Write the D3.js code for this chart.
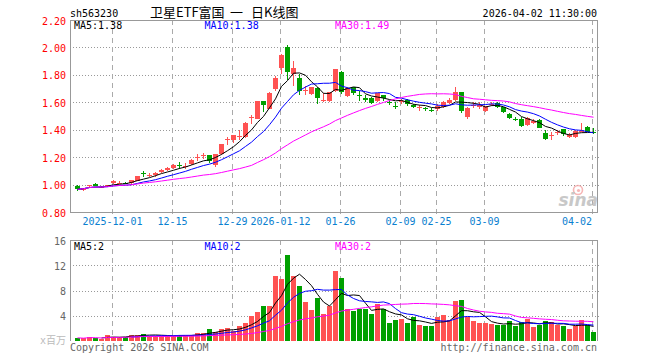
<!DOCTYPE html>
<html>
<head>
<meta charset="utf-8">
<script src="https://cdn.jsdelivr.net/npm/d3@7/dist/d3.min.js"></script>
<style>
  body { margin: 0; background: #fff; }
  svg { display: block; }
  text { font-family: "DejaVu Sans Mono", monospace; font-size: 10px; }
</style>
</head>
<body>
<div id="chart"></div>
<script>
// trading days shown on the chart
const dates = [
    "2025-11-21", "2025-11-24", "2025-11-25", "2025-11-26", "2025-11-27", "2025-11-28",
    "2025-12-01", "2025-12-02", "2025-12-03", "2025-12-04", "2025-12-05",
    "2025-12-08", "2025-12-09", "2025-12-10", "2025-12-11", "2025-12-12",
    "2025-12-15", "2025-12-16", "2025-12-17", "2025-12-18", "2025-12-19",
    "2025-12-22", "2025-12-23", "2025-12-24", "2025-12-25", "2025-12-26",
    "2025-12-29", "2025-12-30", "2025-12-31",
    "2026-01-05", "2026-01-06", "2026-01-07", "2026-01-08", "2026-01-09",
    "2026-01-12", "2026-01-13", "2026-01-14", "2026-01-15", "2026-01-16",
    "2026-01-19", "2026-01-20", "2026-01-21", "2026-01-22", "2026-01-23",
    "2026-01-26", "2026-01-27", "2026-01-28", "2026-01-29", "2026-01-30",
    "2026-02-02", "2026-02-03", "2026-02-04", "2026-02-05", "2026-02-06",
    "2026-02-09", "2026-02-10", "2026-02-11", "2026-02-12", "2026-02-13",
    "2026-02-24", "2026-02-25", "2026-02-26", "2026-02-27",
    "2026-03-02", "2026-03-03", "2026-03-04", "2026-03-05", "2026-03-06",
    "2026-03-09", "2026-03-10", "2026-03-11", "2026-03-12", "2026-03-13",
    "2026-03-16", "2026-03-17", "2026-03-18", "2026-03-19", "2026-03-20",
    "2026-03-23", "2026-03-24", "2026-03-25", "2026-03-26", "2026-03-27",
    "2026-03-30", "2026-03-31", "2026-04-01", "2026-04-02"
];

const open = [
    0.990, 0.962, 0.990, 1.005, 0.978, 0.990, 1.010, 1.010, 1.015, 1.008,
    1.027, 1.082, 1.065, 1.070, 1.090, 1.105, 1.118, 1.140, 1.130, 1.147,
    1.195, 1.210, 1.213, 1.140, 1.220, 1.328, 1.327, 1.350, 1.347, 1.485,
    1.480, 1.606, 1.552, 1.695, 1.850, 2.005, 1.806, 1.775, 1.685, 1.660,
    1.705, 1.610, 1.613, 1.685, 1.820, 1.648, 1.710, 1.652, 1.634, 1.630,
    1.612, 1.650, 1.600, 1.570, 1.605, 1.615, 1.582, 1.560, 1.555, 1.546,
    1.550, 1.568, 1.595, 1.614, 1.672, 1.490, 1.573, 1.567, 1.540, 1.585,
    1.595, 1.563, 1.515, 1.475, 1.480, 1.437, 1.452, 1.468, 1.376, 1.360,
    1.375, 1.403, 1.347, 1.350, 1.388, 1.420, 1.382
];
const high = [
    0.995, 0.978, 1.000, 1.008, 0.990, 1.000, 1.030, 1.025, 1.020, 1.035,
    1.065, 1.100, 1.085, 1.090, 1.115, 1.130, 1.148, 1.162, 1.160, 1.190,
    1.220, 1.230, 1.215, 1.222, 1.295, 1.350, 1.365, 1.400, 1.455, 1.510,
    1.612, 1.610, 1.675, 1.795, 1.952, 2.015, 1.903, 1.806, 1.720, 1.715,
    1.710, 1.670, 1.678, 1.845, 1.825, 1.710, 1.715, 1.680, 1.655, 1.640,
    1.670, 1.655, 1.615, 1.600, 1.625, 1.625, 1.590, 1.580, 1.565, 1.560,
    1.585, 1.608, 1.630, 1.710, 1.675, 1.562, 1.600, 1.600, 1.575, 1.600,
    1.600, 1.565, 1.525, 1.490, 1.490, 1.490, 1.480, 1.475, 1.400, 1.385,
    1.400, 1.405, 1.375, 1.400, 1.447, 1.430, 1.410
];
const low = [
    0.950, 0.955, 0.985, 0.990, 0.975, 0.985, 1.005, 1.005, 1.005, 1.000,
    1.025, 1.055, 1.052, 1.058, 1.085, 1.100, 1.110, 1.112, 1.110, 1.140,
    1.175, 1.190, 1.155, 1.130, 1.215, 1.285, 1.300, 1.325, 1.340, 1.440,
    1.478, 1.528, 1.550, 1.685, 1.806, 1.763, 1.720, 1.650, 1.650, 1.650,
    1.588, 1.605, 1.600, 1.675, 1.660, 1.640, 1.650, 1.610, 1.600, 1.590,
    1.600, 1.610, 1.580, 1.550, 1.590, 1.570, 1.555, 1.540, 1.540, 1.530,
    1.535, 1.560, 1.585, 1.610, 1.520, 1.480, 1.555, 1.550, 1.530, 1.575,
    1.560, 1.520, 1.480, 1.460, 1.420, 1.430, 1.445, 1.410, 1.325, 1.325,
    1.365, 1.355, 1.340, 1.340, 1.385, 1.380, 1.370
];
const close = [
    0.965, 0.975, 0.995, 0.992, 0.985, 0.995, 1.025, 1.015, 1.012, 1.030,
    1.063, 1.078, 1.070, 1.082, 1.108, 1.122, 1.140, 1.136, 1.135, 1.180,
    1.200, 1.215, 1.172, 1.220, 1.293, 1.335, 1.360, 1.355, 1.450, 1.492,
    1.608, 1.580, 1.670, 1.775, 1.947, 1.818, 1.850, 1.680, 1.690, 1.710,
    1.632, 1.615, 1.673, 1.840, 1.673, 1.702, 1.670, 1.648, 1.614, 1.595,
    1.665, 1.630, 1.597, 1.567, 1.612, 1.588, 1.565, 1.565, 1.550, 1.542,
    1.573, 1.605, 1.620, 1.672, 1.535, 1.558, 1.578, 1.583, 1.570, 1.590,
    1.565, 1.530, 1.487, 1.472, 1.425, 1.485, 1.462, 1.413, 1.335, 1.365,
    1.380, 1.370, 1.360, 1.390, 1.392, 1.385, 1.378
];
// volume, millions
const volume = [
    0.50, 0.40, 0.70, 0.50, 0.30, 1.00, 0.60, 0.60, 0.70, 1.00,
    1.00, 1.16, 0.80, 0.80, 0.80, 0.80, 0.80, 1.00, 0.80, 1.00,
    1.20, 1.30, 1.85, 1.47, 1.95, 2.10, 1.55, 2.43, 2.80, 4.00,
    4.65, 5.54, 5.54, 10.35, 9.82, 13.67, 10.35, 8.71, 6.18, 4.91,
    6.81, 4.28, 5.54, 11.14, 9.98, 5.07, 4.75, 5.07, 5.07, 4.28,
    5.91, 5.07, 2.85, 3.33, 3.49, 2.85, 3.80, 2.53, 2.38, 2.38,
    3.80, 4.07, 3.33, 6.34, 6.50, 3.75, 3.22, 2.85, 2.85, 2.69,
    2.53, 2.53, 3.17, 2.38, 3.00, 3.49, 2.22, 2.53, 3.17, 3.00,
    2.53, 2.38, 1.90, 2.38, 3.33, 2.53, 1.43
];
const volMaText = ["2", "2", "2"]; // volume MA readouts as shown

const priceTicks = [2.20, 2.00, 1.80, 1.60, 1.40, 1.20, 1.00, 0.80];
const volTicks = [16, 12, 8, 4];
const tickDates = ["2025-12-01", "2025-12-15", "2025-12-29", "2026-01-12", "2026-01-26",
    "2026-02-09", "2026-02-25", "2026-03-09", "2026-04-02"];
const tickLabels = ["2025-12-01", "12-15", "12-29", "2026-01-12", "01-26",
    "02-09", "02-25", "03-09", "04-02"];
const titleParts = ["卫星ETF富国", "一", "日K线图"];

const maPeriods = [5, 10, 30];
const maColors = ["#000000", "#0000ff", "#ff00ff"];

const left = 70, right = 597;
const priceTop = 20, priceBottom = 212;
const volTop = 240, volBottom = 341;
const upColor = "#ff5252", downColor = "#00a000";

const svg = d3.select("#chart").append("svg")
    .attr("width", 660)
    .attr("height", 360);

const x = d3.scaleBand().domain(dates).range([75, 597]);
const y = d3.scaleLinear().domain([0.8, 2.2]).range([priceBottom, priceTop]);
const yv = d3.scaleLinear().domain([0, 16]).range([volBottom, volTop]);
const cx = d => x(d) + 2.5;
const gx = d => x(d) + 1.5;

const candles = dates.map((d, i) => ({
    date: d, o: open[i], h: high[i], l: low[i], c: close[i], v: volume[i]
}));

function movingAvg(values, n, full) {
    return values.map((v, i) => {
        if (full && i < n - 1) return null;
        return d3.mean(values.slice(Math.max(0, i - n + 1), i + 1));
    });
}

// header
svg.append("text").attr("x", 70).attr("y", 17).text("sh563230");
const titleX = [150, 230, 251];
svg.selectAll(".title").data(titleParts).enter().append("text")
    .attr("x", (d, i) => titleX[i]).attr("y", 17)
    .style("font-family", "'Noto Sans CJK SC', sans-serif").style("font-size", "13px")
    .text(d => d);
svg.append("text").attr("x", 597).attr("y", 17).attr("text-anchor", "end")
    .text("2026-04-02 11:30:00");

// grid lines
const grid = svg.append("g").attr("shape-rendering", "crispEdges");
grid.selectAll(".hp").data(priceTicks.slice(1, -1)).enter().append("line")
    .attr("x1", left).attr("x2", right + 2)
    .attr("y1", d => Math.round(y(d)) + 0.5).attr("y2", d => Math.round(y(d)) + 0.5)
    .attr("stroke", "#999").attr("stroke-dasharray", "1,2");
grid.selectAll(".hv").data(volTicks.slice(1)).enter().append("line")
    .attr("x1", left).attr("x2", right + 2)
    .attr("y1", d => Math.round(yv(d)) + 0.5).attr("y2", d => Math.round(yv(d)) + 0.5)
    .attr("stroke", "#999").attr("stroke-dasharray", "1,2");
[[priceTop, priceBottom + 2], [volTop, volBottom]].forEach(([a, b]) => {
    grid.selectAll(null).data(tickDates).enter().append("line")
        .attr("x1", gx).attr("x2", gx)
        .attr("y1", a).attr("y2", b)
        .attr("stroke", "#aaa").attr("stroke-dasharray", "5,4");
});

// watermark
const logo = svg.append("g").attr("opacity", 0.8);
logo.append("circle").attr("cx", 578).attr("cy", 190).attr("r", 4.5)
    .attr("fill", "none").attr("stroke", "#f4a4a4").attr("stroke-width", 1.6);
logo.append("circle").attr("cx", 578.5).attr("cy", 190.5).attr("r", 1.6).attr("fill", "#f4a4a4");
logo.append("text").attr("x", 598).attr("y", 206).attr("text-anchor", "end")
    .style("font-family", "'DejaVu Sans', sans-serif").style("font-size", "17px")
    .style("font-weight", "bold").style("font-style", "italic")
    .attr("fill", "#bbb").text("sina");

// borders
const border = svg.append("g").attr("shape-rendering", "crispEdges")
    .attr("stroke", "#999").attr("fill", "none");
border.append("rect").attr("x", left + 0.5).attr("y", priceTop + 0.5)
    .attr("width", right - left).attr("height", priceBottom - priceTop);
border.append("path")
    .attr("d", `M${left + 0.5},${volBottom}V${volTop + 0.5}H${right + 0.5}V${volBottom}`);

// axis labels
svg.selectAll(".py").data(priceTicks).enter().append("text")
    .attr("x", 66).attr("y", d => y(d) + 4.5).attr("text-anchor", "end")
    .attr("fill", "#f00").text(d => d.toFixed(2));
svg.selectAll(".vy").data(volTicks).enter().append("text")
    .attr("x", 66).attr("y", d => yv(d) + 4.5).attr("text-anchor", "end")
    .attr("fill", "#666").text(d => d);
svg.append("text").attr("x", 66).attr("y", 344).attr("text-anchor", "end")
    .style("font-family", "'DejaVu Sans Mono', 'Noto Sans CJK SC', monospace")
    .attr("fill", "#bbb").text("x百万");
svg.selectAll(".xl").data(tickDates).enter().append("text")
    .attr("x", (d, i) => Math.min(gx(d), 592 - tickLabels[i].length * 3))
    .attr("y", 225).attr("text-anchor", "middle")
    .attr("fill", "#0a80d0").text((d, i) => tickLabels[i]);

// candles
const cg = svg.append("g").attr("shape-rendering", "crispEdges");
const color = d => d.c >= d.o ? upColor : downColor;
cg.selectAll(".wick").data(candles).enter().append("line")
    .attr("x1", d => cx(d.date)).attr("x2", d => cx(d.date))
    .attr("y1", d => y(d.h)).attr("y2", d => y(d.l))
    .attr("stroke", color);
cg.selectAll(".body").data(candles).enter().append("rect")
    .attr("x", d => x(d.date))
    .attr("y", d => y(Math.max(d.o, d.c)))
    .attr("width", 5)
    .attr("height", d => Math.max(1, Math.abs(y(d.o) - y(d.c))))
    .attr("fill", color);

// volume bars
cg.selectAll(".vol").data(candles).enter().append("rect")
    .attr("x", d => x(d.date))
    .attr("y", d => yv(d.v))
    .attr("width", 5)
    .attr("height", d => volBottom - yv(d.v))
    .attr("fill", color);

// moving averages
maPeriods.forEach((n, k) => {
    const pm = movingAvg(close, n, false);
    const vm = movingAvg(volume, n, n < 30);
    const line = d3.line()
        .defined(d => d.v != null)
        .x(d => cx(d.date));
    svg.append("path")
        .datum(dates.map((d, i) => ({ date: d, v: pm[i] })))
        .attr("fill", "none").attr("stroke", maColors[k]).attr("stroke-width", 1)
        .attr("d", line.y(d => y(d.v)));
    svg.append("path")
        .datum(dates.map((d, i) => ({ date: d, v: vm[i] })))
        .attr("fill", "none").attr("stroke", maColors[k]).attr("stroke-width", 1)
        .attr("d", line.y(d => yv(d.v)));

    const lx = 74 + k * 130.5;
    svg.append("text").attr("x", lx).attr("y", 29).attr("fill", maColors[k])
        .text(`MA${n}:${pm[pm.length - 1].toFixed(2)}`);
    svg.append("text").attr("x", lx).attr("y", 250).attr("fill", maColors[k])
        .text(`MA${n}:${volMaText[k]}`);
});

// footer
svg.append("text").attr("x", 70).attr("y", 351).attr("fill", "#666")
    .text("Copyright 2026 SINA.COM");
svg.append("text").attr("x", 597).attr("y", 351).attr("text-anchor", "end")
    .attr("fill", "#666").text("http://finance.sina.com.cn");
</script>
</body>
</html>
